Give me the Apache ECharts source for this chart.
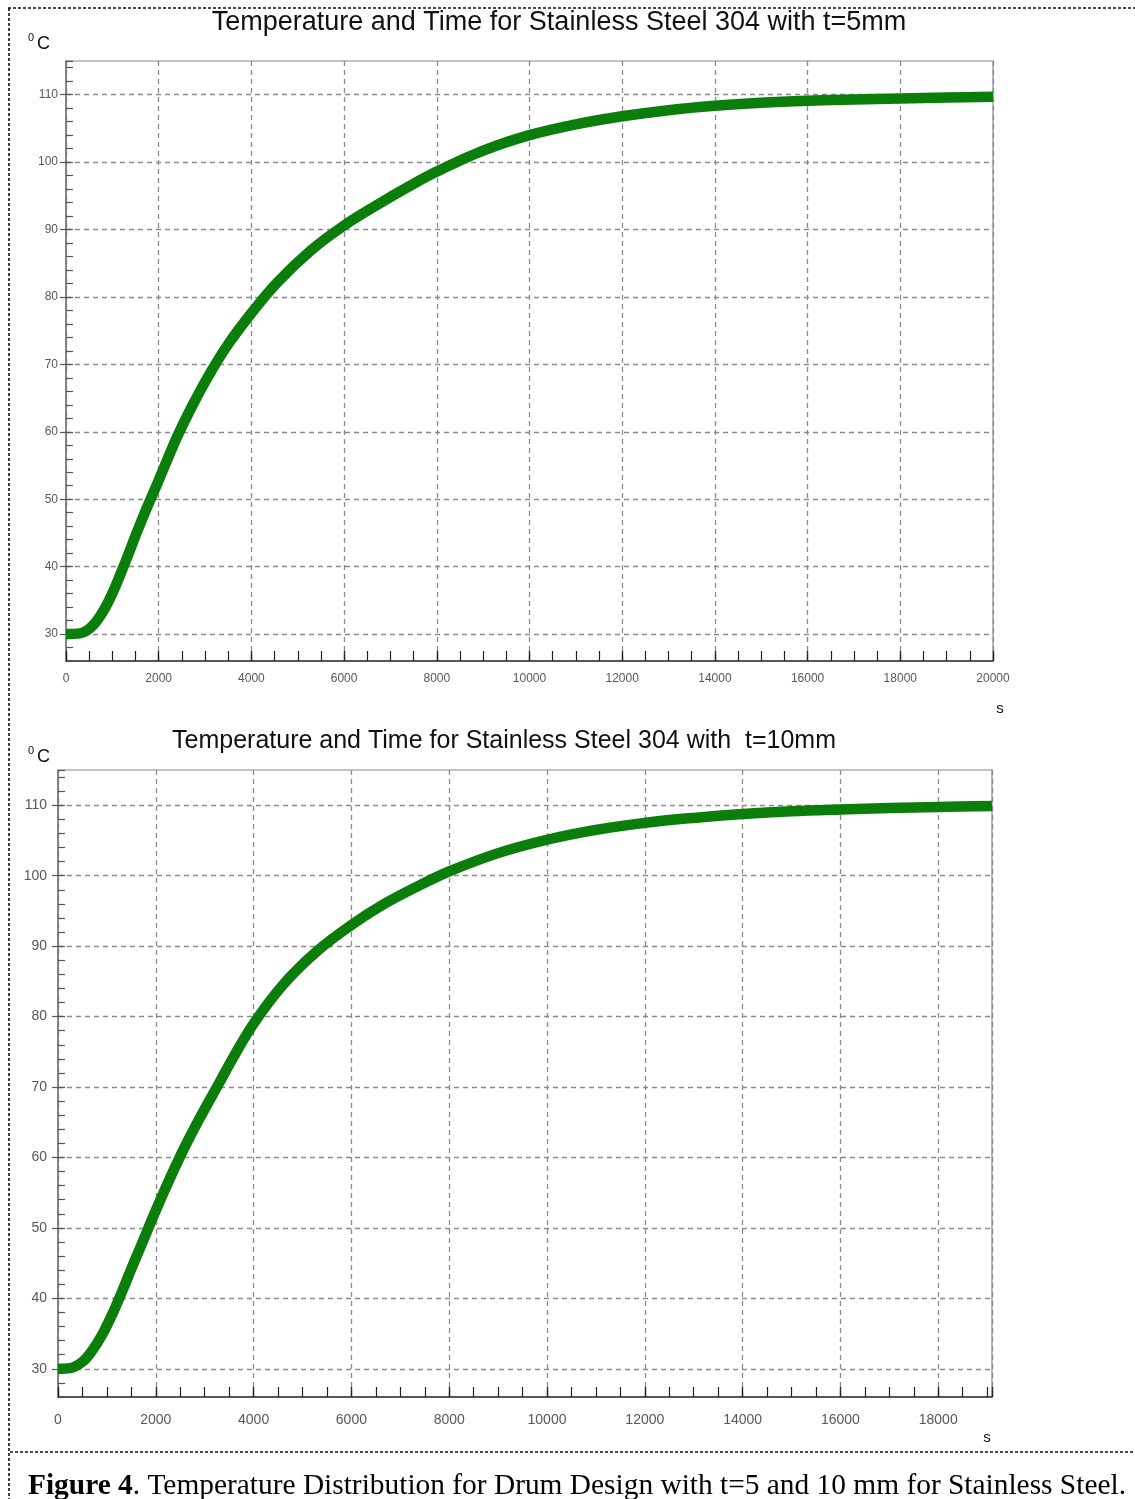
<!DOCTYPE html>
<html><head><meta charset="utf-8">
<script src="https://cdn.jsdelivr.net/npm/echarts@6/dist/echarts.min.js"></script>
<style>html,body{margin:0;padding:0;background:#fff}#c{width:1135px;height:1499px}</style>
</head><body><div id="c"></div>
<script>
// ---- data ----
const title1 = 'Temperature and Time for Stainless Steel 304 with t=5mm';
const title2 = 'Temperature and Time for Stainless Steel 304 with  t=10mm';
const yUnit = 'C';
const xUnit = 's';
const caption = 'Temperature Distribution for Drum Design with t=5 and 10 mm for Stainless Steel.';
const captionLead = 'Figure 4';

const time5 = [0,300,450,600,750,900,1050,1200,1350,1500,1700,2000,2400,2750,3100,3500,4000,4550,5300,6000,6700,7400,8000,9000,10000,11000,12000,13000,14000,15000,16000,17000,18000,19000,20000];
const temp5 = [30,30.1,30.5,31.4,32.8,34.6,36.8,39.3,41.9,44.6,48.0,52.8,59.3,64.2,68.6,73.0,77.6,82.1,87.0,90.6,93.6,96.4,98.6,101.7,104.0,105.6,106.8,107.7,108.35,108.8,109.1,109.3,109.45,109.58,109.7];

const time10 = [0,250,500,700,900,1100,1300,1500,1700,2000,2300,2600,2900,3250,3600,4000,4600,5300,6000,6650,7300,8000,9000,10000,11000,12000,13000,14000,15000,16000,17000,18000,19100];
const temp10 = [30,30.1,31.0,32.6,34.8,37.6,40.8,44.2,47.5,52.5,57.2,61.6,65.6,70.0,74.4,79.0,84.5,89.3,93.0,95.9,98.3,100.6,103.2,105.1,106.5,107.5,108.2,108.75,109.15,109.4,109.6,109.75,109.9];

const yTicks = [30,40,50,60,70,80,90,100,110];
const xMax = [20000, 19100];
const yMin = 26, yMax = 115;

// ---- chart ----
const chart = echarts.init(document.getElementById('c'), null, {renderer: 'canvas'});
const SANS = '"Liberation Sans", Arial, sans-serif';
const SERIF = '"Liberation Serif", "Times New Roman", serif';
const GREEN = '#0a7d0a';
const grids = [
  {left: 66, top: 61, width: 927, height: 600},
  {left: 58, top: 770, width: 934, height: 627}
];
const labelSize = [12, 14];
const xLabelMargin = [12, 16];
const yLabelMargin = [8, 11];

const xAxes = [], yAxes = [];
grids.forEach((g, i) => {
  xAxes.push({
    gridIndex: i, type: 'value', min: 0, max: xMax[i], interval: 2000,
    axisLine: {show: true, onZero: false, lineStyle: {color: '#333', width: 1.5}},
    axisTick: {show: true, inside: true, length: 10, lineStyle: {color: '#222', width: 1.2}},
    axisLabel: {fontFamily: SANS, fontSize: labelSize[i], color: '#5a5560', margin: xLabelMargin[i],
      formatter: v => (v % 2000 === 0 ? String(v) : '')},
    splitLine: {show: true, lineStyle: {type: [5, 4], color: '#8a8a8a', width: 1.3}}
  });
  xAxes.push({
    gridIndex: i, type: 'value', min: 0, max: xMax[i], interval: 500, position: 'bottom',
    axisLine: {show: false}, axisLabel: {show: false}, splitLine: {show: false},
    axisTick: {show: true, inside: true, length: 10, lineStyle: {color: '#222', width: 1.2}}
  });
  yAxes.push({
    gridIndex: i, type: 'value', min: yMin, max: yMax, minInterval: 10, maxInterval: 10, position: 'left',
    axisLine: {show: true, onZero: false, lineStyle: {color: '#777', width: 1.5}},
    axisTick: {show: true, inside: false, length: 6, customValues: yTicks, lineStyle: {color: '#555', width: 1.2}},
    axisLabel: {fontFamily: SANS, fontSize: labelSize[i], color: '#5a5560', margin: yLabelMargin[i],
      customValues: yTicks, formatter: v => (v % 10 === 0 ? String(v) : '')},
    splitLine: {show: true, lineStyle: {type: [5, 4], color: '#8a8a8a', width: 1.3}}
  });
  yAxes.push({
    gridIndex: i, type: 'value', min: yMin, max: yMax, interval: 2, position: 'left', offset: 0,
    axisLine: {show: false}, axisLabel: {show: false}, splitLine: {show: false},
    axisTick: {show: true, inside: true, length: 7, lineStyle: {color: '#555', width: 1.2}}
  });
});

function zip(a, b) { return a.map((v, k) => [v, b[k]]); }

const dash = {stroke: '#111', lineWidth: 1.6, lineDash: [3, 2]};
const option = {
  backgroundColor: '#fff',
  animation: false,
  grid: grids.map(g => Object.assign({show: true, borderColor: '#888', borderWidth: 1.2, backgroundColor: 'transparent'}, g)),
  xAxis: xAxes,
  yAxis: yAxes,
  series: [
    {type: 'line', xAxisIndex: 0, yAxisIndex: 0, data: zip(time5, temp5), showSymbol: false, symbol: 'none',
      smooth: 0.35, clip: true, lineStyle: {color: GREEN, width: 10.5, cap: 'butt', join: 'round'}},
    {type: 'line', xAxisIndex: 2, yAxisIndex: 2, data: zip(time10, temp10), showSymbol: false, symbol: 'none',
      smooth: 0.35, clip: true, lineStyle: {color: GREEN, width: 10.5, cap: 'butt', join: 'round'}}
  ],
  graphic: [
    {type: 'line', shape: {x1: 8, y1: 8, x2: 1135, y2: 8}, style: dash, silent: true},
    {type: 'line', shape: {x1: 9, y1: 8, x2: 9, y2: 1499}, style: dash, silent: true},
    {type: 'line', shape: {x1: 10, y1: 1452, x2: 1135, y2: 1452}, style: dash, silent: true},
    {type: 'text', x: 559, y: 23, style: {text: title1, font: '27px ' + SANS, fill: '#111', align: 'center', verticalAlign: 'middle'}},
    {type: 'text', x: 504, y: 741, style: {text: title2, font: '25px ' + SANS, fill: '#111', align: 'center', verticalAlign: 'middle'}},
    {type: 'text', x: 28, y: 38, style: {text: '0', font: '11px ' + SANS, fill: '#111', align: 'left', verticalAlign: 'middle'}},
    {type: 'text', x: 37, y: 44, style: {text: yUnit, font: '18px ' + SANS, fill: '#111', align: 'left', verticalAlign: 'middle'}},
    {type: 'text', x: 28, y: 751, style: {text: '0', font: '11px ' + SANS, fill: '#111', align: 'left', verticalAlign: 'middle'}},
    {type: 'text', x: 37, y: 757, style: {text: yUnit, font: '18px ' + SANS, fill: '#111', align: 'left', verticalAlign: 'middle'}},
    {type: 'text', x: 1000, y: 709, style: {text: xUnit, font: '15px ' + SANS, fill: '#111', align: 'center', verticalAlign: 'middle'}},
    {type: 'text', x: 987, y: 1438, style: {text: xUnit, font: '15px ' + SANS, fill: '#111', align: 'center', verticalAlign: 'middle'}},
    {type: 'text', x: 28, y: 1486, style: {
      text: '{b|' + captionLead + '}{n|. ' + caption + '}',
      rich: {b: {font: 'bold 29.4px ' + SERIF, fill: '#000'}, n: {font: '29.4px ' + SERIF, fill: '#000'}},
      align: 'left', verticalAlign: 'middle'}}
  ]
};
chart.setOption(option);
</script>
</body></html>
